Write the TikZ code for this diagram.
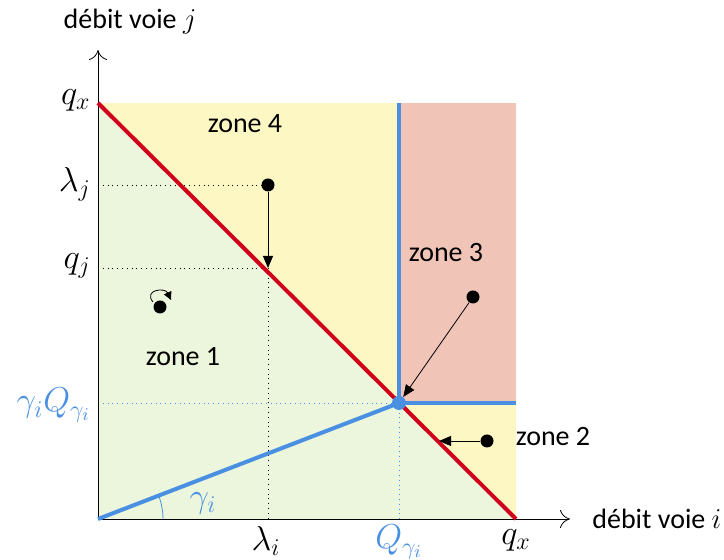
\documentclass[tikz,border=0pt]{standalone}
\usepackage{fontspec}
\setmainfont{Carlito}
\usetikzlibrary{arrows.meta}
\definecolor{cgreen}{HTML}{EBF6DD}
\definecolor{cyellow}{HTML}{FDF7C3}
\definecolor{cpink}{HTML}{F1C4B8}
\definecolor{cblue}{HTML}{4A90E2}
\definecolor{cred}{HTML}{D0021B}
\tikzset{
  lbl/.style={font=\fontsize{14}{16}\selectfont, inner sep=1pt},
  mlbl/.style={font=\fontsize{18}{20}\selectfont, inner sep=1pt},
  pt/.style={circle, fill=black, inner sep=0pt, minimum size=6.5pt},
  bpt/.style={circle, fill=cblue, inner sep=0pt, minimum size=7pt},
  blk/.style={-{Triangle[length=6pt,width=5pt]}, thin},
  dotblk/.style={dotted, thin},
  dotblu/.style={dotted, cblue, thin},
  bluethick/.style={cblue, line width=2pt},
  redthick/.style={cred, line width=2pt},
}
\begin{document}
\begin{tikzpicture}[x=0.5pt, y=-0.5pt]
\useasboundingbox (0,0) rectangle (724,560);
% coordinates
\coordinate (O) at (98,519);
\coordinate (TL) at (98,103);
\coordinate (BR) at (516,519);
\coordinate (Q) at (399,403);
\coordinate (QT) at (399,103);
\coordinate (QR) at (516,403);
% fills
\fill[cyellow] (TL) rectangle (BR);
\fill[cpink] (QT) rectangle (QR);
\fill[cgreen] (O) -- (TL) -- (BR) -- cycle;
% dotted guides
\coordinate (Lj) at (98,185);
\coordinate (Qj) at (98,268);
\coordinate (Pj) at (268,268);
\coordinate (Li) at (268,519);
\coordinate (Gy) at (98,403);
\coordinate (Qx) at (399,519);
\draw[dotblk] (Lj) -- (268,185);
\draw[dotblk] (Qj) -- (Pj);
\draw[dotblk] (Pj) -- (Li);
\draw[dotblu] (Gy) -- (Q);
\draw[dotblu] (Q) -- (Qx);
% axes
\coordinate (Xend) at (570,519);
\coordinate (Yend) at (98,50);
\draw[-{To[length=5pt,width=9pt]}, thin] (O) -- (Xend);
\draw[-{To[length=5pt,width=9pt]}, thin] (O) -- (Yend);
% lines
\draw[bluethick] (O) -- (Q);
\draw[bluethick] (QT) -- (Q) -- (QR);
\draw[redthick] (TL) -- (BR);
\node[bpt] (Qd) at (Q) {};
% angle
\draw[cblue, thin] (163,519) arc[start angle=0, end angle=-21.1, radius=65];
\node[mlbl, text=cblue] at (203,503) {$\gamma_i$};
% points and arrows
\node[pt] (p4) at (268,185) {};
\coordinate (t4) at (268,268);
\draw[blk] (p4) -- (t4);
\node[pt] (p3) at (473,297) {};
\draw[blk] (p3) -- (Qd);
\node[pt] (p2) at (487,441) {};
\coordinate (t2) at (439,441);
\draw[blk] (p2) -- (t2);
\node[pt] (p1) at (160,307) {};
\draw[-{Triangle[length=4pt,width=4pt]}, thin] (153,302) .. controls (143,290) and (165,287) .. (171,300);
% labels
\node[lbl] at (245,124) {zone 4};
\node[lbl] at (446,253) {zone 3};
\node[lbl] at (183,357) {zone 1};
\node[lbl] at (553,437) {zone 2};
\node[lbl] at (130,22) {débit voie $j$};
\node[lbl, anchor=west] at (590,519) {débit voie $i$};
\node[mlbl, anchor=east] at (93,100) {$q_x$};
\node[mlbl, anchor=east] at (93,184) {$\lambda_j$};
\node[mlbl, anchor=east] at (93,266) {$q_j$};
\node[mlbl, text=cblue, anchor=east] at (93,405) {$\gamma_i Q_{\gamma_i}$};
\node[mlbl] at (266,541) {$\lambda_i$};
\node[mlbl, text=cblue] at (399,542) {$Q_{\gamma_i}$};
\node[mlbl] at (516,540) {$q_x$};
\end{tikzpicture}
\end{document}
